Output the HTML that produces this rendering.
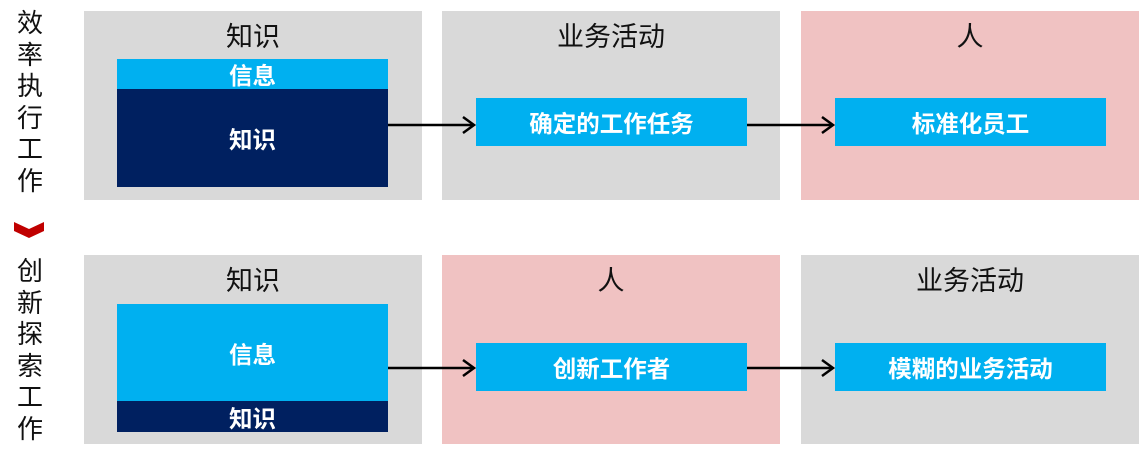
<!DOCTYPE html><html><head><meta charset="utf-8"><style>
body{margin:0;width:1139px;height:465px;background:#fff;position:relative;overflow:hidden;font-family:"Liberation Sans","Noto Sans CJK SC",sans-serif}
div{position:absolute;box-sizing:border-box}
.p{background:#d9d9d9}.pk{background:#f0c2c2}
.t{font-size:27px;color:#111;text-align:center;width:338px;line-height:30px}
.lb{background:#00b0f0;color:#fff;font-weight:bold;font-size:23.5px;display:flex;align-items:center;justify-content:center}
.nv{background:#002060;color:#fff;font-weight:bold;font-size:23.5px;display:flex;align-items:center;justify-content:center}
.v{left:14px;width:32px;font-size:26px;line-height:31.5px;text-align:center;color:#111}
</style></head><body>
<div class="v" style="top:8px">效<br>率<br>执<br>行<br>工<br>作</div>
<svg style="position:absolute;left:14px;top:222px" width="31" height="17"><polygon points="0,0 15,7 30,0 30,9 15,16 0,9" fill="#c00000"/></svg>
<div class="v" style="top:256px">创<br>新<br>探<br>索<br>工<br>作</div>

<div class="p" style="left:84px;top:11px;width:338px;height:189px"></div>
<div class="p" style="left:442px;top:11px;width:338px;height:189px"></div>
<div class="pk" style="left:801px;top:11px;width:338px;height:189px"></div>
<div class="t" style="left:84px;top:22px">知识</div>
<div class="t" style="left:442px;top:22px">业务活动</div>
<div class="t" style="left:801px;top:22px">人</div>
<div class="lb" style="left:117px;top:59px;width:271px;height:30px">信息</div>
<div class="nv" style="left:117px;top:89px;width:271px;height:98px">知识</div>
<div class="lb" style="left:476px;top:98px;width:271px;height:48px">确定的工作任务</div>
<div class="lb" style="left:835px;top:98px;width:271px;height:48px">标准化员工</div>

<div class="p" style="left:84px;top:255px;width:338px;height:189px"></div>
<div class="pk" style="left:442px;top:255px;width:338px;height:189px"></div>
<div class="p" style="left:801px;top:255px;width:338px;height:189px"></div>
<div class="t" style="left:84px;top:266px">知识</div>
<div class="t" style="left:442px;top:266px">人</div>
<div class="t" style="left:801px;top:266px">业务活动</div>
<div class="lb" style="left:117px;top:304px;width:271px;height:97px">信息</div>
<div class="nv" style="left:117px;top:401px;width:271px;height:31px">知识</div>
<div class="lb" style="left:476px;top:343px;width:271px;height:48px">创新工作者</div>
<div class="lb" style="left:835px;top:343px;width:271px;height:48px">模糊的业务活动</div>

<svg style="position:absolute;left:0;top:0" width="1139" height="465" fill="none" stroke="#000" stroke-width="2.5">
<line x1="388" y1="125" x2="474" y2="125"/><polyline points="463,117 474,125 463,133"/>
<line x1="747" y1="125" x2="833" y2="125"/><polyline points="822,117 833,125 822,133"/>
<line x1="388" y1="368" x2="474" y2="368"/><polyline points="463,360 474,368 463,376"/>
<line x1="747" y1="368" x2="833" y2="368"/><polyline points="822,360 833,368 822,376"/>
</svg>
</body></html>
